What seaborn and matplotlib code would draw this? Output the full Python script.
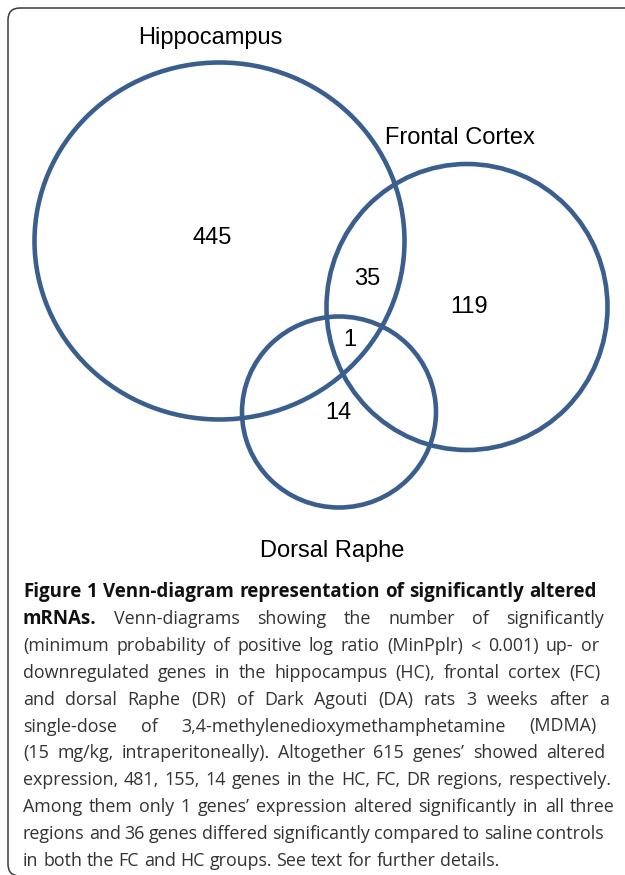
import seaborn as sns
import matplotlib.pyplot as plt
from matplotlib.patches import Ellipse, FancyBboxPatch

# set names and the counts shown in each region of the diagram
set_names = ['Hippocampus', 'Frontal Cortex', 'Dorsal Raphe']
region_names = ['HC only', 'HC & FC', 'FC only', 'HC & FC & DR', 'DR only']
region_counts = [445, 35, 119, 1, 14]

caption_lines = [
    "Figure 1 Venn-diagram representation of significantly altered",
    "mRNAs. Venn-diagrams showing the number of significantly",
    "(minimum probability of positive log ratio (MinPplr) < 0.001) up- or",
    "downregulated genes in the hippocampus (HC), frontal cortex (FC)",
    "and dorsal Raphe (DR) of Dark Agouti (DA) rats 3 weeks after a",
    "single-dose of 3,4-methylenedioxymethamphetamine (MDMA)",
    "(15 mg/kg, intraperitoneally). Altogether 615 genes\u2019 showed altered",
    "expression, 481, 155, 14 genes in the HC, FC, DR regions, respectively.",
    "Among them only 1 genes\u2019 expression altered significantly in all three",
    "regions and 36 genes differed significantly compared to saline controls",
    "in both the FC and HC groups. See text for further details.",
]
# number of leading bold words on each caption line
caption_bold = [99, 1, 0, 0, 0, 0, 0, 0, 0, 0, 0]

# layout (pixel coordinates, y from top)
circle_x = [219.5, 467, 339]
circle_y = [241, 307, 412]
circle_w = [370, 281, 194]
circle_h = [357, 286, 191]
name_x = [210, 460, 332]
name_y = [38, 138, 551]
count_x = [212, 367, 469, 350, 338]
count_y = [238, 279, 307, 340, 413]
line_right = [597, 604, 599, 600, 609, 597, 605, 611, 615, 604, None]

sns.set_theme(style='white')
plt.rcParams['font.family'] = ['Liberation Sans', 'DejaVu Sans']
blue = '#3A5F8F'

fig = plt.figure(figsize=(6.25, 8.75), dpi=100)
ax = fig.add_axes([0, 0, 1, 1])
ax.set_xlim(0, 625)
ax.set_ylim(875, 0)
ax.axis('off')

# frame around the figure (right and bottom run off the page)
ax.add_patch(FancyBboxPatch((8, 8), 900, 868, boxstyle='round,pad=0,rounding_size=12',
                            fc='none', ec='#3a3a3a', lw=1.1))

for x, y, w, h in zip(circle_x, circle_y, circle_w, circle_h):
    ax.add_patch(Ellipse((x, y), w, h, fc='none', ec=blue, lw=3.3))

for name, x, y in zip(set_names, name_x, name_y):
    ax.text(x, y, name, ha='center', va='center', fontsize=17, color='black')

for n, x, y in zip(region_counts, count_x, count_y):
    ax.text(x, y, str(n), ha='center', va='center', fontsize=17, color='black')

# justified caption
cap_font = ['Open Sans', 'DejaVu Sans']
reg_size = 12.9
bold_size = 13.5
fig.canvas.draw()
renderer = fig.canvas.get_renderer()


def text_width(s, weight, size):
    t = ax.text(0, 0, s, fontsize=size, fontweight=weight, family=cap_font)
    w = t.get_window_extent(renderer).width
    t.remove()
    return w


left = 23
for i, line in enumerate(caption_lines):
    words = line.split(' ')
    weights = ['bold' if k < caption_bold[i] else 'normal' for k in range(len(words))]
    sizes = [bold_size if wt == 'bold' else reg_size for wt in weights]
    widths = [text_width(wd, wt, sz) for wd, wt, sz in zip(words, weights, sizes)]
    if line_right[i] is None:
        gap = text_width('x x', 'normal', reg_size) - 2 * text_width('x', 'normal', reg_size)
    else:
        gap = (line_right[i] - left - sum(widths)) / (len(words) - 1)
    x = left
    base = 597 + 26.9 * i
    for wd, wt, sz, w in zip(words, weights, sizes, widths):
        ax.text(x, base, wd, ha='left', va='baseline', fontsize=sz,
                fontweight=wt, family=cap_font,
                color='#111111' if wt == 'bold' else '#333333')
        x += w + gap

fig.savefig('out.png', dpi=100)
